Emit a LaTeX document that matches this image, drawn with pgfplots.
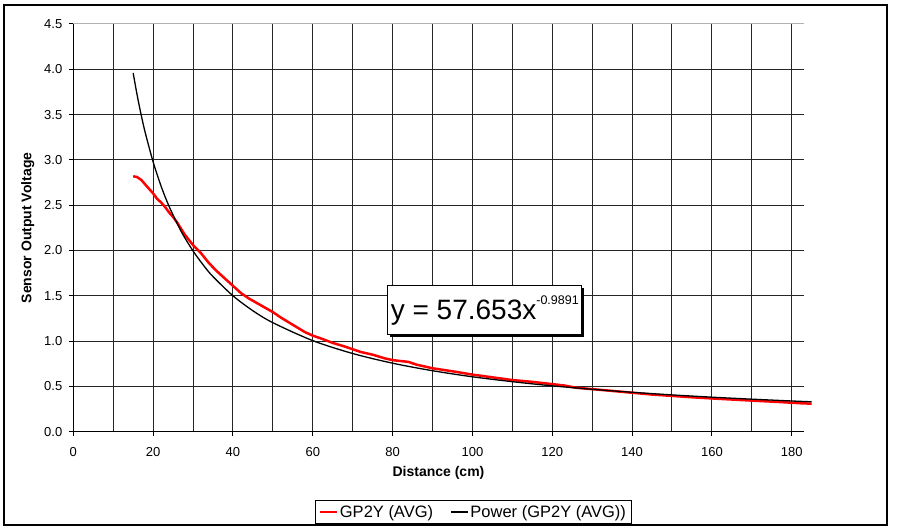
\documentclass[border=0pt]{standalone}
\usepackage{fontspec}
\setmainfont{Liberation Sans}
\usepackage{pgfplots}
\pgfplotsset{compat=1.18}
\usetikzlibrary{shadows}

\begin{document}
\begin{tikzpicture}
\useasboundingbox (0pt,0pt) rectangle (897pt,526pt);
\draw[line width=1.2pt] (4pt,1pt) rectangle (887pt,521pt);
\begin{axis}[
    at={(73.3pt,94.3pt)}, anchor=origin,
    scale only axis, width=730.4pt, height=407.7pt,
    xmin=0, xmax=183, ymin=0, ymax=4.5,
    xtick={0,20,...,180}, ytick={0,0.5,...,4.0},
    extra y ticks={4.5},
    extra y tick style={major grid style={black!30, line width=1pt}},
    minor x tick num=1,
    grid=both,
    major grid style={black!85, line width=1pt},
    minor grid style={black!85, line width=1pt},
    axis x line*=bottom, axis y line*=left,
    axis line style={black, line width=1pt, -},
    tick align=outside, major tick length=4.5pt, minor tick length=0pt,
    tick style={black, line width=1pt},
    ticklabel style={font=\fontsize{13}{13}\selectfont},
    xticklabel style={yshift=-8pt},
    /pgf/number format/assume math mode=true,
    yticklabel style={xshift=-3pt, /pgf/number format/fixed, /pgf/number format/fixed zerofill, /pgf/number format/precision=1},
    xlabel={Distance (cm)}, ylabel={Sensor Output Voltage},
    xlabel style={yshift=-3pt}, ylabel style={yshift=-6pt},
    label style={font=\fontsize{14}{14}\selectfont\bfseries},
    clip=false,
    legend columns=2,
    legend style={at={(0.5475,-0.197)}, anchor=center, draw=black, line width=0.8pt,
        font=\fontsize{16.5}{16.5}\selectfont, inner sep=3pt,
        /tikz/every even column/.append style={column sep=15pt}},
    legend image code/.code={\draw[#1] (0pt,0pt) -- (17pt,0pt);},
]
\addplot[red, line width=2.5pt] coordinates {
    (15,2.82) (16,2.81) (17,2.78) (18,2.73) (19,2.68) (20,2.63) (21,2.57) (22,2.53)
    (23,2.48) (24,2.42) (25,2.37) (26,2.31) (27,2.24) (28,2.17) (30,2.06) (32,1.97)
    (34,1.86) (36,1.77) (38,1.69) (40,1.61) (42,1.53) (44,1.47) (46,1.42)
    (48,1.37) (50,1.32) (52,1.26) (55,1.18) (58,1.10) (60,1.06) (62,1.03)
    (65,0.98) (68,0.94) (70,0.91) (72,0.88) (75,0.85) (78,0.81) (80,0.79)
    (82,0.78) (84,0.77) (86,0.74) (88,0.72) (90,0.70) (93,0.68) (96,0.66)
    (100,0.63) (105,0.60) (110,0.57) (115,0.55) (120,0.525) (123,0.51)
    (126,0.485) (130,0.47) (135,0.45) (140,0.43) (145,0.41) (150,0.395)
    (155,0.38) (160,0.367) (165,0.355) (170,0.343) (175,0.332) (180,0.32)
    (183,0.312) (185,0.31)
};
\addlegendentry{GP2Y (AVG)}
\addplot[black, line width=1.3pt, smooth] coordinates {
    (15,3.959) (16,3.714) (17,3.498) (18,3.305) (20,2.978) (22,2.710)
    (24,2.487) (27,2.213) (30,1.995) (33,1.815) (35,1.712) (40,1.500)
    (45,1.335) (50,1.203) (60,1.005) (70,0.863) (80,0.756) (90,0.673)
    (100,0.606) (110,0.552) (120,0.506) (130,0.468) (140,0.435)
    (150,0.406) (160,0.381) (170,0.359) (180,0.339) (185,0.330)
};
\addlegendentry{Power (GP2Y (AVG))}
\node[draw=black, line width=1pt, fill=white,
      drop shadow={shadow xshift=2.5pt, shadow yshift=-2.5pt, opacity=1, fill=black},
      minimum width=194pt, minimum height=49pt, inner sep=0pt]
      at (axis cs:103.1,1.338)
      {\fontsize{28}{28}\selectfont y = 57.653x\raisebox{15pt}{\fontsize{12.5}{12.5}\selectfont -0.9891}};
\end{axis}
\end{tikzpicture}
\end{document}
